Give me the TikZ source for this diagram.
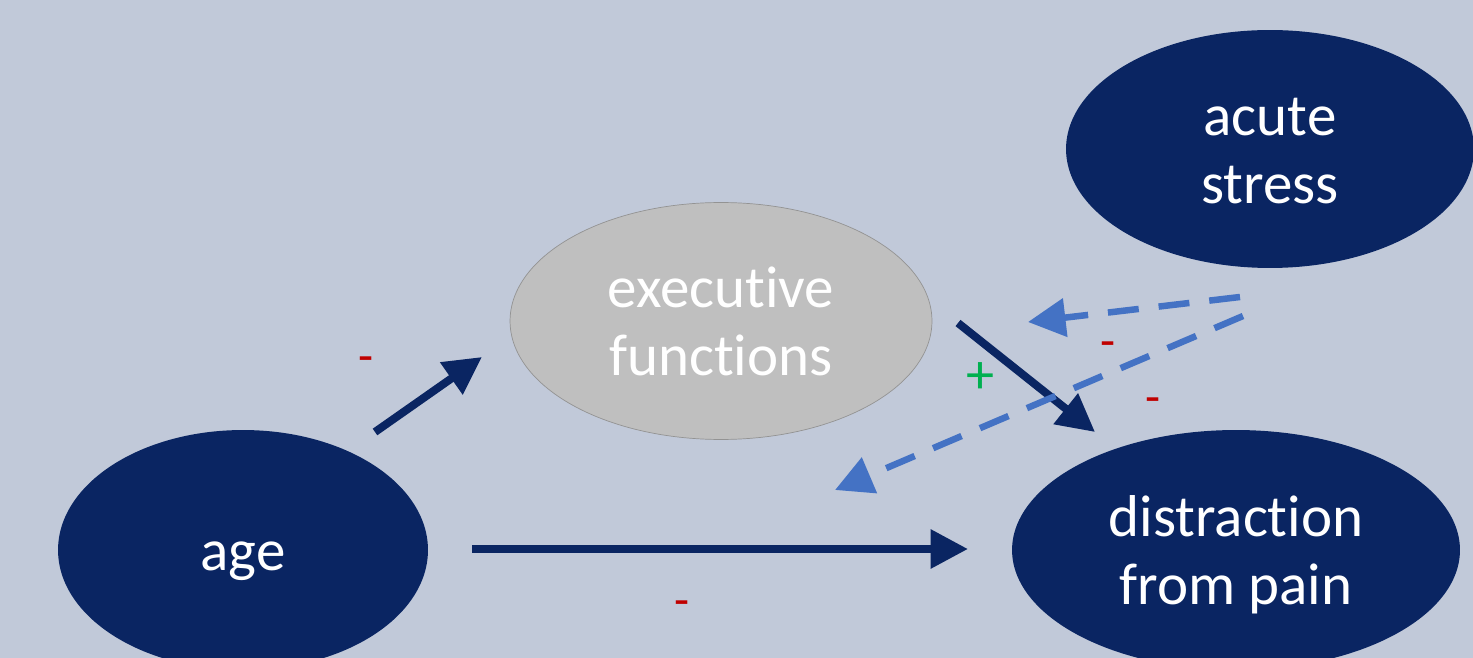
\documentclass[tikz,border=0pt]{standalone}
\usepackage{fontspec}
\setmainfont{Carlito}[Ligatures={NoCommon,NoContextual}]
\usetikzlibrary{arrows.meta,shapes.geometric}
\definecolor{navy}{HTML}{0A2562}
\definecolor{bgblue}{HTML}{C1C9D9}
\definecolor{efgray}{HTML}{BFBFBF}
\definecolor{dashblue}{HTML}{4472C4}
\definecolor{minusred}{HTML}{C00000}
\definecolor{plusgreen}{HTML}{00B050}
\newcommand\tstrut{\rule{0pt}{1.0em}}
\newcommand\bstrut{\rule[-0.3em]{0pt}{0.3em}}
\begin{document}
\begin{tikzpicture}[x=0.02cm,y=-0.02cm,
 bubble/.style={ellipse, fill=navy, text=white, inner sep=0pt, align=center, font=\fontsize{33.6}{38.5}\selectfont},
 arr/.style={navy, line width=0.16cm, -{Triangle[length=0.75cm,width=0.75cm]}},
 dasharr/.style={dashblue, line width=0.13cm, dash pattern=on 0.62cm off 0.4cm, -{Triangle[length=0.75cm,width=0.75cm]}},
 sign/.style={inner sep=0pt, font=\fontsize{28}{30}\selectfont}]
\fill[bgblue] (0,0) rectangle (1473,658);
\useasboundingbox (0,0) rectangle (1473,658);
\clip (0,0) rectangle (1473,658);
\node[bubble, minimum width=7.4cm, minimum height=4.8cm] (age) at (243,550) {\tstrut age\bstrut};
\node[bubble, fill=efgray, draw=gray!85, line width=0.4pt, minimum width=8.44cm, minimum height=4.74cm] (ef) at (721,321) {\tstrut executive\\functions\bstrut};
\node[bubble, minimum width=8.16cm, minimum height=4.76cm] (stress) at (1270,149) {\tstrut acute\\stress\bstrut};
\node[bubble, minimum width=8.96cm, minimum height=4.8cm] (pain) at (1236,550) {\tstrut distraction\\from pain\bstrut};
% arrow ends
\coordinate (age-out) at (375,432); \coordinate (ef-in) at (482,357);
\coordinate (ef-out) at (958,323); \coordinate (pain-in) at (1095,432);
\coordinate (age-right) at (472,549); \coordinate (pain-left) at (968,549);
\coordinate (stress-a) at (1240,297); \coordinate (ef-mod) at (1028,322);
\coordinate (stress-b) at (1243,316); \coordinate (age-mod) at (835,490);
\draw[arr] (age-out) -- (ef-in);
\draw[arr] (ef-out) -- (pain-in);
\draw[arr] (age-right) -- (pain-left);
\draw[dasharr] (stress-a) -- (ef-mod);
\draw[dasharr] (stress-b) -- (age-mod);
% signs
\node[sign, text=minusred] (s-ageef) at (366,365) {-};
\node[sign, text=minusred] (s-agepain) at (682,609) {-};
\node[sign, text=plusgreen, font=\fontsize{32}{34}\selectfont] (s-efpain) at (980,378) {+};
\node[sign, text=minusred] (s-stressef) at (1108,350) {-};
\node[sign, text=minusred] (s-stressage) at (1153,406) {-};
\end{tikzpicture}
\end{document}
